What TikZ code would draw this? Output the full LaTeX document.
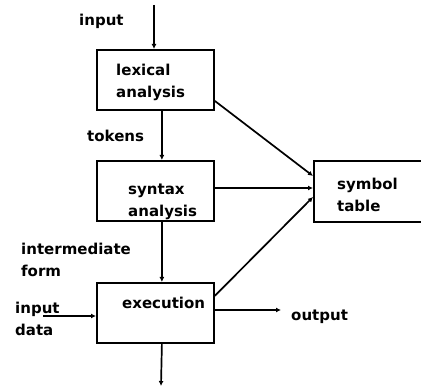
\documentclass[tikz,border=0pt]{standalone}
\usepackage{fontspec}
\setmainfont{DejaVu Sans}
\usetikzlibrary{arrows.meta}
\tikzset{
  box/.style={draw, line width=1.8pt, anchor=north west, inner sep=0pt,
    minimum width=117pt, minimum height=60pt},
  lbl/.style={anchor=base west, inner sep=0pt, align=left,
    font=\fontsize{15}{22}\selectfont\bfseries},
  conn/.style={line width=1.7pt, -{Latex[length=5pt,width=5pt]}},
}
\begin{document}
\begin{tikzpicture}[x=1pt,y=-1pt]
\useasboundingbox (0,0) rectangle (421,387);
\clip (0,0) rectangle (421,387);
% boxes
\node[box] (lex) at (96,49) {};
\node[box] (syn) at (96,160) {};
\node[box] (exe) at (96,282) {};
\node[box, minimum width=130pt, minimum height=61pt] (sym) at (313,160) {};
% labels (base = baseline of last line)
\node[lbl] (tin) at (79,26) {input};
\node[lbl] (tlex) at (116,98) {lexical\\analysis};
\node[lbl] (ttok) at (87,142) {tokens};
\node[lbl] (tsyn) at (128,217) {syntax\\analysis};
\node[lbl] (tsym) at (337,212) {symbol\\table};
\node[lbl] (tint) at (21,277) {intermediate\\form};
\node[lbl] (texe) at (122,309) {execution};
\node[lbl] (tdat) at (15,336) {input\\data};
\node[lbl] (tout) at (291,321) {output};
% free ends
\coordinate (top) at (154,5);
\coordinate (dat) at (43,316);
\coordinate (out) at (281,310);
\coordinate (bot) at (161,386);
% connectors
\draw[conn] (top) -- (lex.north -| top);
\draw[conn] ([xshift=6.5pt]lex.south) -- ([xshift=6.5pt]syn.north);
\draw[conn] ([xshift=6.5pt]syn.south) -- ([xshift=6.5pt]exe.north);
\draw[conn] ([xshift=6.5pt]exe.south) -- (bot);
\draw[conn] (dat) -- (exe.west |- dat);
\draw[conn] (exe.east |- out) -- (out);
\draw[conn] (syn.east |- 0,188) -- (sym.west |- 0,188);
\draw[conn] ([yshift=-21pt]lex.east) -- ([yshift=-16pt]sym.north west);
\draw[conn] ([yshift=17pt]exe.east) -- ([yshift=-37pt]sym.north west);
\end{tikzpicture}
\end{document}
